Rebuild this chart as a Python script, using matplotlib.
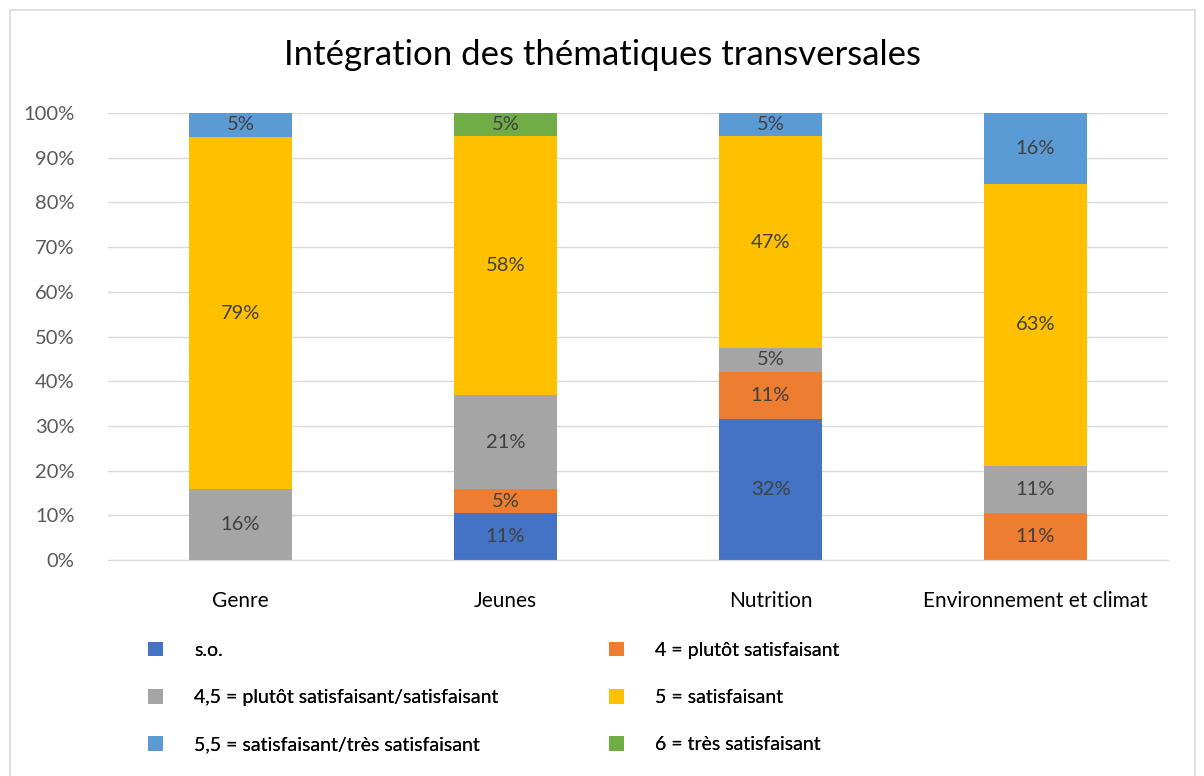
import matplotlib
matplotlib.use("Agg")
import matplotlib.pyplot as plt
from matplotlib.patches import Rectangle, Patch
import numpy as np

plt.rcParams['font.family'] = ['Lato', 'DejaVu Sans']

categories = ["Genre", "Jeunes", "Nutrition", "Environnement et climat"]
series_names = ["s.o.", "4 = plutôt satisfaisant", "4,5 = plutôt satisfaisant/satisfaisant",
                "5 = satisfaisant", "5,5 = satisfaisant/très satisfaisant", "6 = très satisfaisant"]
so = [0, 10.5, 31.6, 0]
v4 = [0, 5.3, 10.5, 10.5]
v45 = [15.8, 21.1, 5.3, 10.5]
v5 = [78.9, 57.9, 47.4, 63.2]
v55 = [5.3, 0, 5.3, 15.8]
v6 = [0, 5.3, 0, 0]
colors = ["#4472C4", "#ED7D31", "#A5A5A5", "#FFC000", "#5B9BD5", "#70AD47"]

series = [so, v4, v45, v5, v55, v6]

fig = plt.figure(figsize=(12.04, 7.76), dpi=100)
fig.patches.append(Rectangle((10/1204, -0.01), 1185/1204, 1 - 10/776 + 0.01, transform=fig.transFigure,
                             fill=False, edgecolor="#d9d9d9", linewidth=1.2))
ax = fig.add_axes([108/1204, 1 - 560/776, 1060/1204, 447/776])

x = np.arange(len(categories))
bottom = np.zeros(len(categories))
for vals, col, name in zip(series, colors, series_names):
    vals = np.array(vals, dtype=float)
    ax.bar(x, vals, 0.385, bottom=bottom, color=col, label=name, zorder=2)
    for xi, b, v in zip(x, bottom, vals):
        if v > 0:
            ax.text(xi, b + v / 2, f"{int(v + 0.5)}%", ha="center", va="center", fontsize=14.5,
                    color="#404040", zorder=3)
    bottom += vals

ax.set_xlim(-0.5, len(categories) - 0.5)
ax.set_ylim(0, 100)
ax.set_yticks(np.arange(0, 101, 10))
ax.set_yticklabels([f"{t}%" for t in range(0, 101, 10)], fontsize=14.5, color="#595959")
ax.set_xticks(x)
ax.set_xticklabels(categories, fontsize=15, color="black")
ax.tick_params(axis="y", length=0, pad=24)
ax.tick_params(axis="x", length=0, pad=22)
ax.grid(axis="y", color="#d9d9d9", linewidth=1, zorder=0)
for s in ["top", "right", "left"]:
    ax.spines[s].set_visible(False)
ax.spines["bottom"].set_color("#d9d9d9")

fig.text(0.5, 1 - 55/776, "Intégration des thématiques transversales", ha="center", va="center",
         fontsize=25, color="black")

handles = [Patch(facecolor=c, label=n) for c, n in zip(colors, series_names)]
cols = [[0, 2, 4], [1, 3, 5]]
xs = [130, 591]
for col_idx, xpos in zip(cols, xs):
    leg = fig.legend([handles[i] for i in col_idx], [series_names[i] for i in col_idx],
                     loc="upper left", bbox_to_anchor=(xpos/1204, 1 - 624/776), frameon=False,
                     fontsize=14, handlelength=0.8, handleheight=0.8, labelspacing=1.55,
                     handletextpad=1.6)
    fig.add_artist(leg)

fig.savefig("out.png", dpi=100)
